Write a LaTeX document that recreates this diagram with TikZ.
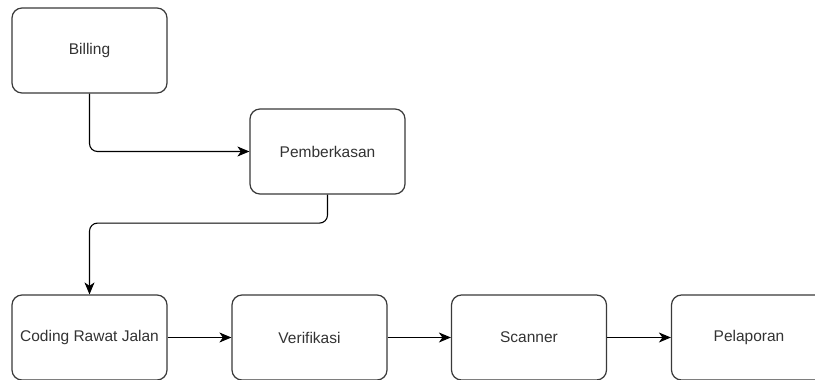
\documentclass[tikz,border=0pt]{standalone}
\usepackage{fontspec}
\setmainfont{Liberation Sans}
\usetikzlibrary{arrows.meta}
\definecolor{boxline}{HTML}{3A3A3A}
\tikzset{
  stepbox/.style={draw=boxline, line width=1.2pt, rounded corners=10pt,
    minimum width=155pt, minimum height=85pt, inner sep=0pt,
    font=\fontsize{15.5pt}{18pt}\selectfont, text=black!80},
  flow/.style={draw=black, line width=1.1pt, rounded corners=8pt,
    -{Stealth[length=12pt, width=10pt, inset=3.5pt]}}
}
\begin{document}
\begin{tikzpicture}[x=1pt, y=-1pt]
  \useasboundingbox (0,0) rectangle (815,380);
  \fill[white] (0,0) rectangle (815,380);

  \node[stepbox] (billing) at (89.5,50.5) {Billing};
  \node[stepbox] (berkas) at (327.5,151.5) {Pemberkasan};
  \node[stepbox] (coding) at (89.5,337.5) {Coding Rawat Jalan};
  \node[stepbox] (verif) at (309.5,337.5) {Verifikasi};
  \node[stepbox] (scan) at (529,337.5) {Scanner};
  \node[stepbox] (lapor) at (749,337.5) {Pelaporan};

  \draw[flow] (billing.south) |- (berkas.west);
  \draw[flow] (berkas.south) -- ++(0,28.5) -| (coding.north);
  \draw[flow] (coding) -- (verif);
  \draw[flow] (verif) -- (scan);
  \draw[flow] (scan) -- (lapor);
\end{tikzpicture}
\end{document}
